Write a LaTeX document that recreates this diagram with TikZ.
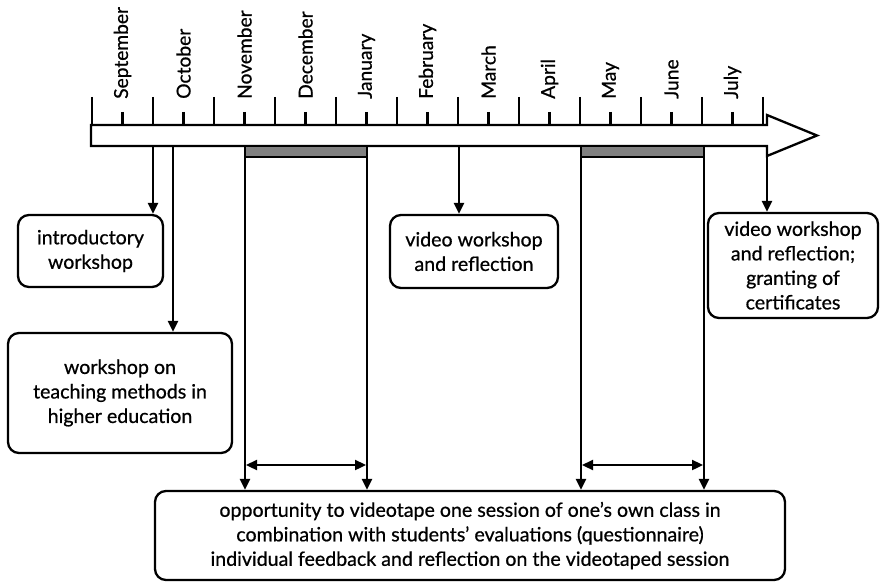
\documentclass[tikz,border=0pt]{standalone}
\usepackage{fontspec}
\setmainfont{Lato}[FakeBold=0.7]
\usetikzlibrary{arrows.meta}
\begin{document}
\begin{tikzpicture}[x=1pt,y=-1pt,
  every node/.style={font=\fontsize{19.6}{24.5}\selectfont},
  ln/.style={line width=2.3pt},
  arr/.style={line width=2.3pt,-{Triangle[length=11pt,width=10pt]}},
  darr/.style={line width=2.3pt,{Triangle[length=11pt,width=10pt]}-{Triangle[length=11pt,width=10pt]}},
  box/.style={draw,line width=2.3pt,rounded corners=11pt,align=center,inner sep=0pt},
  month/.style={rotate=90,anchor=west,inner sep=0pt,font=\fontsize{19.2}{22}\selectfont}]
\useasboundingbox (0,0) rectangle (880,583);
% timeline arrow
\draw[ln,line join=miter] (91,125) -- (767,125) -- (767,115) -- (817,135.5) -- (767,156) -- (767,146) -- (91,146) -- cycle;
% long ticks
\foreach \i in {0,...,11} {
  \draw[ln] ({92+61*\i},97) -- ({92+61*\i},125);
}
% short ticks and month labels
\foreach \m [count=\i from 0] in {September,October,November,December,January,February,March,April,May,June,July} {
  \draw[ln] ({122.5+61*\i},112) -- ({122.5+61*\i},125);
  \node[month] (m\i) at ({122.5+61*\i},99) {\m};
}
% gray bars
\draw[ln,fill=gray] (245,146) rectangle (367,157);
\draw[ln,fill=gray] (581,146) rectangle (704,157);
% boxes
\node[box,minimum width=145pt,minimum height=72pt] (intro) at (90.5,251) {introductory\\workshop};
\node[box,minimum width=224pt,minimum height=120pt] (teach) at (120,393) {workshop on\\teaching methods in\\higher education};
\node[box,minimum width=168pt,minimum height=73pt] (video) at (474,251.5) {video workshop\\and reflection};
\node[box,minimum width=170pt,minimum height=105pt] (cert) at (793,265.5) {video workshop\\and reflection;\\granting of\\certificates};
\node[box,minimum width=630pt,minimum height=89pt] (opp) at (470,535.5) {opportunity to videotape one session of one's own class in\\combination with students' evaluations (questionnaire)\\individual feedback and reflection on the videotaped session};
% anchors on the bar
\coordinate (a1) at (153,146);
\coordinate (a2) at (173,146);
\coordinate (a3) at (245,157);
\coordinate (a4) at (367,157);
\coordinate (a5) at (459,146);
\coordinate (a6) at (581,157);
\coordinate (a7) at (704,157);
\coordinate (a8) at (767,146);
\draw[arr] (a1) -- (a1 |- intro.north);
\draw[arr] (a2) -- (a2 |- teach.north);
\draw[arr] (a3) -- (a3 |- opp.north);
\draw[arr] (a4) -- (a4 |- opp.north);
\draw[arr] (a5) -- (a5 |- video.north);
\draw[arr] (a6) -- (a6 |- opp.north);
\draw[arr] (a7) -- (a7 |- opp.north);
\draw[arr] (a8) -- (a8 |- cert.north);
% double arrows
\coordinate (d1) at (246,465);
\coordinate (d2) at (366,465);
\coordinate (d3) at (582,465);
\coordinate (d4) at (703,465);
\draw[darr] (d1) -- (d2);
\draw[darr] (d3) -- (d4);
\end{tikzpicture}
\end{document}
